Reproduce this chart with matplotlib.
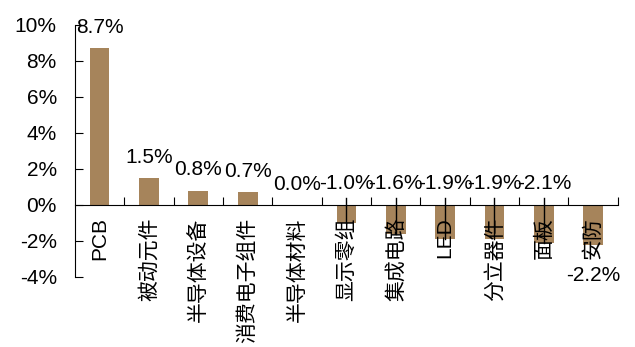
import matplotlib.pyplot as plt
from matplotlib.ticker import FuncFormatter

plt.rcParams['font.family'] = ['Liberation Sans', 'Noto Sans CJK SC']
plt.rcParams['axes.unicode_minus'] = False

# Sub-sector changes (%)
sectors = ['PCB', '被动元件', '半导体设备', '消费电子组件', '半导体材料', '显示零组',
           '集成电路', 'LED', '分立器件', '面板', '安防']
changes = [8.7, 1.5, 0.8, 0.7, 0.0, -1.0, -1.6, -1.9, -1.9, -2.1, -2.2]

bar_color = '#A6845B'

fig = plt.figure(figsize=(6.35, 3.47), dpi=100)
ax = fig.add_axes([0.118, 0.202, 0.855, 0.726])

x = list(range(len(sectors)))
ax.bar(x, changes, width=0.4, color=bar_color, zorder=2)

ax.set_xlim(-0.5, len(sectors) - 0.5)
ax.set_ylim(-4, 10)
ax.set_yticks(range(-4, 11, 2))
ax.yaxis.set_major_formatter(FuncFormatter(lambda v, p: f'{v:.0f}%'))
ax.tick_params(axis='y', direction='in', length=6, labelsize=15, pad=13)

# x axis sits at zero, with short ticks between categories
ax.spines['bottom'].set_position(('data', 0))
ax.spines['top'].set_visible(False)
ax.spines['right'].set_visible(False)
ax.set_xticks([i + 0.5 for i in x])
ax.set_xticklabels([])
ax.tick_params(axis='x', direction='in', length=6)

# category names written vertically just under the zero line
for i, name in enumerate(sectors):
    ax.annotate(name, (i, 0), xytext=(0, -9), textcoords='offset points',
                rotation=90, ha='center', va='top', fontsize=15, zorder=3)

# value labels
for i, v in enumerate(changes):
    text = f'{v:.1f}%'
    if v >= 0:
        ax.annotate(text, (i, v), xytext=(0, 8), textcoords='offset points',
                    ha='center', va='bottom', fontsize=15)
    elif i == len(changes) - 1:
        ax.text(i, -3.9, text, ha='center', va='center', fontsize=15)
    else:
        ax.text(i, 1.17, text, ha='center', va='center', fontsize=15)
        ax.plot([i, i], [0.4, v], color='black', lw=1, zorder=4)

fig.savefig('out.png', dpi=100)
